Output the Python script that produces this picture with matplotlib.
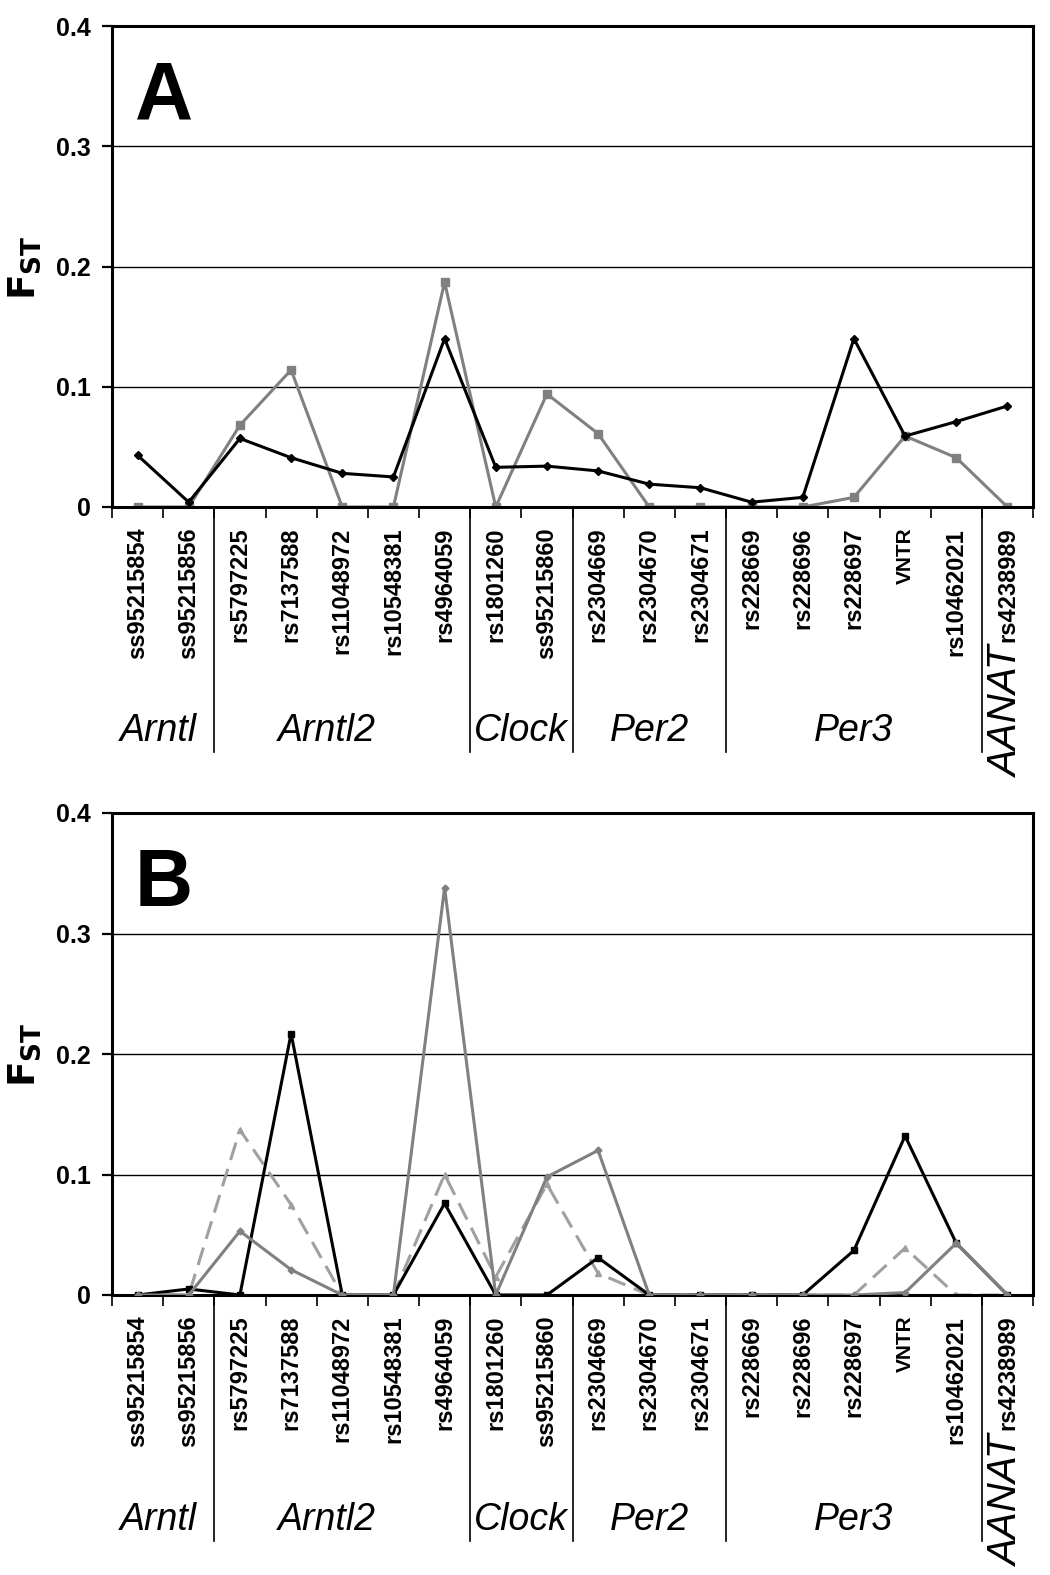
import matplotlib.pyplot as plt
import numpy as np
from matplotlib.transforms import blended_transform_factory


snps = ['ss95215854', 'ss95215856', 'rs5797225', 'rs7137588', 'rs11048972',
        'rs10548381', 'rs4964059', 'rs1801260', 'ss95215860', 'rs2304669',
        'rs2304670', 'rs2304671', 'rs228669', 'rs228696', 'rs228697', 'VNTR',
        'rs10462021', 'rs4238989']

genes = ['Arntl', 'Arntl2', 'Clock', 'Per2', 'Per3', 'AANAT']
gene_first = [0, 2, 7, 9, 12, 17]
gene_last = [1, 6, 8, 11, 16, 17]

# panel A
a_black = [0.043, 0.004, 0.057, 0.041, 0.028, 0.025, 0.140, 0.033, 0.034,
           0.030, 0.019, 0.016, 0.004, 0.008, 0.140, 0.059, 0.071, 0.084]
a_gray = [0.0, 0.0, 0.068, 0.114, 0.0, 0.0, 0.187, 0.0, 0.094,
          0.061, 0.0, 0.0, 0.0, 0.0, 0.008, 0.059, 0.041, 0.0]

# panel B
b_black = [0.0, 0.005, 0.0, 0.217, 0.0, 0.0, 0.076, 0.0, 0.0,
           0.031, 0.0, 0.0, 0.0, 0.0, 0.037, 0.132, 0.043, 0.0]
b_gray = [0.0, 0.0, 0.053, 0.021, 0.0, 0.0, 0.338, 0.0, 0.098,
          0.120, 0.0, 0.0, 0.0, 0.0, 0.0, 0.002, 0.043, 0.0]
b_dash = [0.0, 0.0, 0.137, 0.075, 0.0, 0.0, 0.100, 0.015, 0.092,
          0.018, 0.0, 0.0, 0.0, 0.0, 0.0, 0.039, 0.0, 0.0]

GRAY = '#808080'
LIGHT = '#a0a0a0'
gene_dx = [-0.1, -0.3, 0.0, 0.0, 0.0, 0.0]

fig = plt.figure(figsize=(10.5, 15.75), dpi=100)


def panel(ax, letter, series):
    x = np.arange(len(snps))
    for vals, kw in series:
        ax.plot(x, vals, **kw)

    ax.set_xlim(-0.5, len(snps) - 0.5)
    ax.set_ylim(0, 0.4)
    ax.set_yticks([0, 0.1, 0.2, 0.3, 0.4])
    ax.set_yticklabels(['0', '0.1', '0.2', '0.3', '0.4'],
                       family='Liberation Sans', fontweight='bold', fontsize=18)
    ax.yaxis.grid(True, color='black', lw=1.0)
    ax.set_axisbelow(True)
    ax.tick_params(axis='y', direction='out', length=7, width=1.6, pad=8)

    ax.set_xticks(x)
    ax.set_xticklabels(snps, rotation=90, family='Liberation Sans',
                       fontweight='bold', fontsize=17)
    for lab in ax.get_xticklabels():
        if lab.get_text() == 'VNTR':
            lab.set_fontsize(15)
    ax.tick_params(axis='x', which='major', length=0, pad=15)
    ax.set_xticks(np.arange(-0.5, len(snps)), minor=True)
    ax.tick_params(axis='x', which='minor', direction='out', length=8, width=1.2)

    for sp in ax.spines.values():
        sp.set_linewidth(2.2)

    trans = blended_transform_factory(ax.transData, ax.transAxes)
    for last in gene_last[:-1]:
        ax.plot([last + 0.5, last + 0.5], [0, -0.51], transform=trans,
                clip_on=False, color='black', lw=1.2)
    for g, f, l, dx in zip(genes, gene_first, gene_last, gene_dx):
        if g == 'AANAT':
            ax.text((f + l) / 2 + dx, -0.425, g, transform=trans, rotation=90,
                    ha='center', va='center', style='italic',
                    family='Liberation Sans', fontsize=29)
        else:
            ax.text((f + l) / 2 + dx, -0.487, g, transform=trans,
                    ha='center', va='baseline', style='italic',
                    family='Liberation Sans', fontsize=27)

    ax.text(0.025, 0.807, letter, transform=ax.transAxes, fontsize=58,
            fontweight='bold', family='Liberation Sans', va='baseline')


axA = fig.add_axes([112 / 1050, 1 - 507 / 1575, 921 / 1050, 481 / 1575])
panel(axA, 'A', [
    (a_black, dict(color='black', lw=2.2, marker='D', ms=4, zorder=3)),
    (a_gray, dict(color=GRAY, lw=2.2, marker='s', ms=5.5, zorder=2)),
])

axB = fig.add_axes([112 / 1050, 1 - 1295 / 1575, 921 / 1050, 482 / 1575])
panel(axB, 'B', [
    (b_dash, dict(color=LIGHT, lw=2.2, ls=(0, (6, 3)), marker='^', ms=5, zorder=2)),
    (b_black, dict(color='black', lw=2.2, marker='s', ms=5, zorder=3)),
    (b_gray, dict(color=GRAY, lw=2.2, marker='D', ms=3.5, zorder=4)),
])

for ytop in [268, 1055]:
    fig.text(25 / 1050, 1 - ytop / 1575, r'$\mathbf{F}_{\mathbf{ST}}$',
             rotation=90, ha='center', va='center', fontsize=27)

fig.savefig('out.png', dpi=100)
